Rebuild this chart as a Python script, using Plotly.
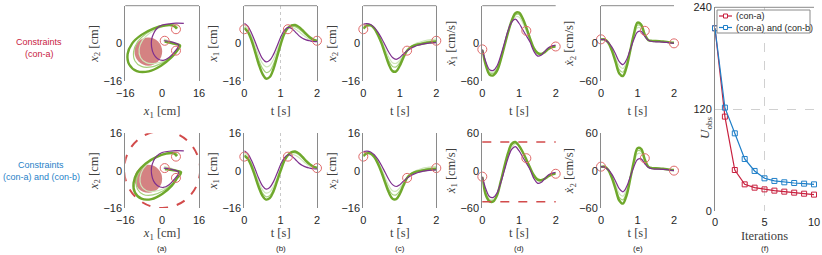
import plotly.graph_objects as go

# ---------------- data ----------------
T = [0.0, 0.1, 0.2, 0.3, 0.4, 0.5, 0.6, 0.7, 0.8, 0.9, 1.0,
     1.1, 1.2, 1.3, 1.4, 1.5, 1.6, 1.7, 1.8, 1.9, 2.0]

# demonstration (purple)
X1_DEMO = [8.5, 7.2, 4.3, 0.6, -3.4, -6.5, -7.9, -7.2, -4.8, -1.2, 2.6,
           5.5, 6.8, 6.3, 4.9, 3.3, 2.2, 1.5, 1.1, 0.8, 0.7]
X2_DEMO = [8.2, 8.4, 8.0, 6.8, 4.8, 2.2, -0.8, -3.8, -6.0, -6.8, -6.0,
           -4.5, -3.2, -2.2, -1.4, -0.8, -0.4, -0.1, 0.1, 0.2, 0.3]
XD1_DEMO = [-9.6, -30, -42, -43, -36, -20, 0, 20, 34, 38.5, 32,
            22, 12, 2, -12, -20, -19, -13, -7, -4, -2.7]
XD2_DEMO = [6.4, 5.5, 1.5, -6, -17, -29, -34, -26, -10, 6, 18,
            19, 11, 5, 3, 2.5, 2.3, 2, 1.5, 0.8, 0]
# demonstration path as drawn in the x1-x2 plane (panel a)
PATH_DEMO_X1 = [9.4, 6.0, 3.0, 0.0, -2.3, -3.7, -4.6, -4.6, -3.7, -2.0, 0.5, 3.0, 5.2, 6.8, 7.2, 6.0, 4.0, 2.0, 0.7]
PATH_DEMO_X2 = [8.5, 8.6, 8.3, 7.8, 6.3, 4.2, 1.5, -1.5, -4.5, -6.5, -7.2, -6.0, -3.8, -1.8, -0.7, 0.0, 0.6, 1.0, 1.1]

# constraint (con-a): iterations light -> final (green)
X1_A = [
    [7.6, 6.2, 3.1, -1.0, -5.3, -8.5, -10.0, -9.4, -6.9, -3.0, 1.4, 5.0, 6.7, 6.8, 6.1, 5.0, 3.8, 2.6, 1.7, 1.1, 0.8],
    [6.8, 5.3, 2.0, -2.5, -7.2, -10.6, -12.4, -11.8, -9.0, -4.6, 0.3, 4.4, 6.6, 7.3, 7.1, 6.2, 4.9, 3.5, 2.3, 1.4, 1.0],
    [6.4, 4.8, 1.2, -3.8, -9.0, -13.0, -15.0, -14.3, -11.0, -5.8, -0.5, 4.0, 6.5, 7.6, 7.8, 7.0, 5.6, 4.0, 2.6, 1.6, 1.1],
]
X2_A = [
    [7.2, 8.1, 7.9, 6.7, 4.4, 1.4, -2.4, -6.0, -8.2, -8.5, -7.2, -5.0, -3.0, -1.4, -0.4, 0.3, 0.8, 1.2, 1.5, 1.7, 1.8],
    [6.6, 7.8, 7.7, 6.5, 4.0, 0.7, -3.6, -7.5, -9.8, -10.0, -8.2, -5.4, -3.0, -1.5, -0.7, -0.2, 0.2, 0.6, 0.9, 1.1, 1.2],
    [6.2, 7.5, 7.6, 6.3, 3.6, 0.0, -4.6, -9.0, -11.8, -11.9, -9.5, -6.0, -3.1, -1.6, -0.9, -0.5, -0.2, 0.1, 0.4, 0.6, 0.7],
]
XD1_A = [
    [-9.8, -32, -45, -46, -39, -23, -2, 18, 33, 42, 42, 33, 19, 4, -10, -17, -18, -13, -8, -5, -4],
    [-10, -34, -47, -48, -41, -25, -4, 17, 34, 45, 46, 37, 23, 7, -8, -16, -17.5, -14, -9, -5.5, -4.5],
    [-10.6, -36, -50, -51, -44, -27, -5, 17, 36, 48, 49, 40, 25, 8, -7, -15, -17, -14, -9, -6, -5],
]
XD2_A = [
    [6.3, 6, 1.3, -8, -22, -36, -40, -30, -10, 10, 25, 24, 12, 5, 3.5, 3.2, 3, 2.5, 1.8, 1.1, 0.6],
    [6.2, 6.2, 1.2, -10, -26, -42, -46, -34, -11, 13, 29, 27, 13, 5, 4, 3.6, 3.3, 2.8, 2.1, 1.3, 0.8],
    [6, 6.5, 1, -12, -30, -48, -52, -38, -12, 15, 33, 30, 14, 5, 4, 3.8, 3.5, 3, 2.3, 1.5, 1],
]

# constraints (con-a) and (con-b)
X1_B = [
    [7.6, 6.3, 3.3, -0.8, -5.0, -8.2, -9.6, -9.1, -6.8, -3.0, 1.3, 5.0, 6.7, 7.0, 6.6, 5.6, 4.3, 3.0, 1.9, 1.2, 0.9],
    [6.8, 5.5, 2.4, -1.8, -6.2, -9.6, -11.2, -10.7, -8.2, -4.0, 0.5, 4.5, 6.7, 7.6, 7.6, 6.8, 5.4, 3.8, 2.5, 1.6, 1.1],
    [6.4, 5.0, 1.8, -2.6, -7.2, -10.8, -12.4, -11.8, -9.0, -4.6, 0.0, 4.2, 6.6, 7.9, 8.2, 7.4, 5.9, 4.2, 2.8, 1.8, 1.2],
]
X2_B = [
    [7.2, 8.0, 7.8, 6.5, 4.1, 0.8, -3.0, -6.5, -8.6, -8.8, -7.4, -5.1, -3.0, -1.3, -0.3, 0.4, 0.9, 1.3, 1.5, 1.7, 1.8],
    [6.6, 7.7, 7.6, 6.2, 3.6, 0.0, -4.2, -8.0, -10.2, -10.4, -8.6, -5.6, -3.0, -1.4, -0.6, -0.1, 0.3, 0.7, 1.0, 1.1, 1.2],
    [6.2, 7.4, 7.3, 5.8, 3.0, -0.8, -5.2, -9.4, -12.0, -12.2, -10.0, -6.4, -3.1, -1.5, -0.7, -0.3, 0.0, 0.3, 0.5, 0.6, 0.7],
]
XD1_B = [
    [-9.8, -35, -46, -46, -38, -20, 2, 22, 37, 43, 40, 30, 17, 4, -9, -16, -17, -13, -8, -5, -4],
    [-10, -38, -48, -48, -39, -18, 5, 26, 41, 45, 40, 30, 18, 5, -7, -14.5, -16, -13, -9, -6, -4.5],
    [-10, -40, -49.5, -49.5, -40, -18, 6, 28, 43, 46, 40, 30, 18, 5, -7, -14, -15.5, -13, -9, -6, -4.5],
]
XD2_B = [
    [6.3, 6, 1.3, -8, -22, -37, -41, -30, -10, 10, 27, 27, 14, 5, 3.5, 3.2, 3, 2.5, 1.8, 1.1, 0.6],
    [6.2, 6.3, 1.2, -10, -27, -43, -47, -35, -12, 13, 32, 31, 16, 6, 4, 3.6, 3.3, 2.8, 2.1, 1.3, 0.8],
    [6, 6.5, 1, -12, -30, -48, -53, -40, -14, 15, 36, 35, 18, 6, 4, 3.8, 3.5, 3, 2.3, 1.5, 1],
]

# via points
VIA_T = [0.0, 1.2, 2.0]
VIA_X1 = [6.0, 6.0, 1.1]
VIA_X2 = [6.0, -3.1, 1.1]
VIA_XD1 = [-9.6, 20.0, -5.0]
VIA_XD2 = [6.4, 20.0, 0.0]

# obstacle (con-a) and workspace bound (con-b)
OBS_CENTER = [-6.0, -3.5]
OBS_RADIUS = 6.0
BOUND_CENTER = [0.0, 0.5]
BOUND_RADIUS = 16.5
VEL_LIMITS = [46.0, -50.0]

# panel (f)
ITERATIONS = [0, 1, 2, 3, 4, 5, 6, 7, 8, 9, 10]
U_OBS_A = [215.3, 111.2, 48.3, 31.4, 27.5, 25.5, 24.0, 22.8, 21.6, 20.4, 19.3]
U_OBS_AB = [215.3, 121.8, 91.5, 61.3, 47.2, 38.5, 35.4, 33.8, 33.0, 32.2, 31.4]

LETTERS = ["(a)", "(b)", "(c)", "(d)", "(e)", "(f)"]

# ---------------- style ----------------
W, H = 822, 255
PURPLE = "#7E2F8E"
GREENS = ["#cfe6bb", "#a5d07c", "#6fa82c"]
GWIDTH = [1.2, 1.2, 2.4]
CIRC = "#E06A6A"
AXC = "#8a8a8a"
RED = "#C8213F"
BLUE = "#1F7FC8"
SANS = "Liberation Sans, Arial, sans-serif"
SERIF = "Liberation Serif, DejaVu Serif, serif"


def sfx(i):
    return "" if i == 1 else str(i)


def px_x(a, b):
    return [a / W, b / W]


def px_y(top, bottom):
    return [1 - bottom / H, 1 - top / H]


XD = [px_x(125.3, 199), px_x(244.3, 317), px_x(363.3, 436.3), px_x(482.3, 555.7), px_x(601, 674)]
YD_TOP = px_y(5.7, 81)
YD_BOT = px_y(133.3, 208)

fig = go.Figure()


def add_line(i, x, y, color, width):
    fig.add_trace(go.Scatter(x=x, y=y, mode="lines",
                             line=dict(color=color, width=width, shape="spline", smoothing=1.0),
                             xaxis="x" + sfx(i), yaxis="y" + sfx(i), hoverinfo="skip"))


def add_via(i, x, y):
    fig.add_trace(go.Scatter(x=x, y=y, mode="markers",
                             marker=dict(symbol="circle-open", size=9, color=CIRC, line=dict(width=1, color=CIRC)),
                             xaxis="x" + sfx(i), yaxis="y" + sfx(i), hoverinfo="skip", cliponaxis=False))


rows = [(X1_A, X2_A, XD1_A, XD2_A, 1), (X1_B, X2_B, XD1_B, XD2_B, 6)]
for X1s, X2s, XD1s, XD2s, base in rows:
    a, b, c, d, e = [base + k for k in range(5)]
    for k in range(3):
        add_line(a, X1s[k], X2s[k], GREENS[k], GWIDTH[k])
    add_line(a, PATH_DEMO_X1, PATH_DEMO_X2, PURPLE, 1.2)
    add_via(a, VIA_X1, VIA_X2)
    for ax, G, DEMO, VIA in [(b, X1s, X1_DEMO, VIA_X1), (c, X2s, X2_DEMO, VIA_X2),
                             (d, XD1s, XD1_DEMO, VIA_XD1), (e, XD2s, XD2_DEMO, VIA_XD2)]:
        for k in range(3):
            add_line(ax, T, G[k], GREENS[k], GWIDTH[k])
        add_line(ax, T, DEMO, PURPLE, 1.2)
        add_via(ax, VIA_T, VIA)

# panel f
fig.add_trace(go.Scatter(x=ITERATIONS, y=U_OBS_A, mode="lines+markers", name="(con-a)",
                         line=dict(color=RED, width=1.2),
                         marker=dict(symbol="square-open", size=5, color=RED, line=dict(width=1, color=RED)),
                         xaxis="x11", yaxis="y11", cliponaxis=False))
fig.add_trace(go.Scatter(x=ITERATIONS, y=U_OBS_AB, mode="lines+markers", name="(con-a) and (con-b)",
                         line=dict(color=BLUE, width=1.2),
                         marker=dict(symbol="square-open", size=5, color=BLUE, line=dict(width=1, color=BLUE)),
                         xaxis="x11", yaxis="y11", cliponaxis=False))

tickfont = dict(family=SANS, size=11, color="#262626")
titlefont = dict(family=SERIF, size=12.5, color="#404040")

layout = dict(width=W, height=H, margin=dict(l=0, r=0, t=0, b=0, autoexpand=False), paper_bgcolor="white",
              plot_bgcolor="white", showlegend=False)

ylabels = ["<i>x</i><sub>2</sub> [cm]", "<i>x</i><sub>1</sub> [cm]", "<i>x</i><sub>2</sub> [cm]",
           "<i>x\u0307</i><sub>1</sub> [cm/s]", "<i>x\u0307</i><sub>2</sub> [cm/s]"]
xlabels = ["<i>x</i><sub>1</sub> [cm]", "t [s]", "t [s]", "t [s]", "t [s]"]

shapes = []
for r, yd in enumerate([YD_TOP, YD_BOT]):
    for k in range(5):
        i = r * 5 + k + 1
        if k == 0:
            xr, xt, yr, yt = [-16, 16], [-16, 0, 16], [-16, 16], [-16, 0, 16]
        elif k in (1, 2):
            xr, xt, yr, yt = [0, 2], [0, 1, 2], [-16, 16], [-16, 0, 16]
        else:
            xr, xt, yr, yt = [0, 2], [0, 1, 2], [-60, 60], [-60, 0, 60]
        layout["xaxis" + sfx(i)] = dict(domain=XD[k], anchor="y" + sfx(i), range=xr, tickvals=xt,
                                        showline=False, ticks="", zeroline=False, automargin=False,
                                        ticklabelstandoff=4,
                                        showgrid=(k == 1), gridcolor="#c8c8c8", griddash="dot", gridwidth=1,
                                        tickfont=tickfont,
                                        title=dict(text=xlabels[k], font=titlefont, standoff=(8 if r == 0 else 2)))
        layout["yaxis" + sfx(i)] = dict(domain=yd, anchor="x" + sfx(i), range=yr, tickvals=yt,
                                        showline=True, linecolor=AXC, linewidth=1, mirror=(k < 3),
                                        ticks="", zeroline=False, showgrid=False, automargin=False,
                                        tickfont=tickfont, title=dict(text=ylabels[k], font=titlefont, standoff=2))
        if r == 0:
            shapes.append(dict(type="line", xref="x%s domain" % sfx(i), yref="y%s domain" % sfx(i),
                               x0=0, x1=1, y0=1, y1=1, line=dict(color=AXC, width=1)))

# panel f axes
layout["xaxis11"] = dict(domain=px_x(715, 814), anchor="y11", range=[0, 10], tickvals=[0, 5, 10],
                         showline=False, ticks="", zeroline=False, showgrid=True, gridcolor="#d0d0d0",
                         griddash="dash", tickfont=tickfont, automargin=False, ticklabelstandoff=3,
                         title=dict(text="Iterations", font=titlefont, standoff=4))
layout["yaxis11"] = dict(domain=px_y(7.3, 211), anchor="x11", range=[0, 240], tickvals=[0, 120, 240],
                         showline=True, linecolor=AXC, linewidth=1, ticks="", zeroline=False,
                         showgrid=True, gridcolor="#d0d0d0", griddash="dash", tickfont=tickfont, automargin=False)
shapes.append(dict(type="line", xref="x11 domain", yref="y11 domain", x0=0, x1=1, y0=1, y1=1,
                   line=dict(color=AXC, width=1)))

# obstacle circles in panel (a)
for i in [1, 6]:
    shapes.append(dict(type="circle", xref="x" + sfx(i), yref="y" + sfx(i), layer="below",
                       x0=OBS_CENTER[0] - OBS_RADIUS, x1=OBS_CENTER[0] + OBS_RADIUS,
                       y0=OBS_CENTER[1] - OBS_RADIUS, y1=OBS_CENTER[1] + OBS_RADIUS,
                       fillcolor="rgba(200,95,95,0.78)", line=dict(width=0)))
shapes.append(dict(type="circle", xref="x6", yref="y6",
                   x0=BOUND_CENTER[0] - BOUND_RADIUS, x1=BOUND_CENTER[0] + BOUND_RADIUS,
                   y0=BOUND_CENTER[1] - BOUND_RADIUS, y1=BOUND_CENTER[1] + BOUND_RADIUS,
                   line=dict(color="#D24B4B", width=2, dash="dash")))
for v in VEL_LIMITS:
    shapes.append(dict(type="line", xref="x9 domain", yref="y9", x0=0, x1=1, y0=v, y1=v,
                       line=dict(color="#D24B4B", width=1.5, dash="dash")))

# manual legend for panel f
lx0, lx1, ly0, ly1 = 717 / W, 810 / W, 1 - 33 / H, 1 - 10 / H
shapes.append(dict(type="rect", xref="paper", yref="paper", x0=lx0, x1=lx1, y0=ly0, y1=ly1,
                   line=dict(color="#8a8a8a", width=1), fillcolor="white"))
annotations = []
for row, (name, col) in enumerate([("(con-a)", RED), ("(con-a) and (con-b)", BLUE)]):
    yy = 1 - (16 + row * 11.5) / H
    shapes.append(dict(type="line", xref="paper", yref="paper", x0=719 / W, x1=732 / W, y0=yy, y1=yy,
                       line=dict(color=col, width=1.2)))
    shapes.append(dict(type="rect", xref="paper", yref="paper", x0=723.5 / W, x1=727.5 / W,
                       y0=yy - 2 / H, y1=yy + 2 / H, line=dict(color=col, width=1), fillcolor="white"))
    annotations.append(dict(text=name, xref="paper", yref="paper", x=733.5 / W, y=yy, xanchor="left",
                            yanchor="middle", showarrow=False, font=dict(family=SANS, size=9, color="#262626")))

# y title of panel f (placed just below the 120 tick label like the original)
annotations.append(dict(text="<i>U</i><sub>obs</sub>", x=705 / W, y=1 - 128 / H, textangle=-90,
                        font=dict(family=SERIF, size=13, color="#404040")))

# row labels
annotations += [
    dict(text="Constraints", x=39 / W, y=1 - 42 / H, font=dict(family=SANS, size=9, color=RED)),
    dict(text="(con-a)", x=39 / W, y=1 - 54 / H, font=dict(family=SANS, size=9, color=RED)),
    dict(text="Constraints", x=41 / W, y=1 - 165 / H, font=dict(family=SANS, size=9, color=BLUE)),
    dict(text="(con-a) and (con-b)", x=41 / W, y=1 - 177 / H, font=dict(family=SANS, size=9, color=BLUE)),
]
for k, name in enumerate(LETTERS):
    xc = [162, 281, 400, 519, 638, 765][k]
    annotations.append(dict(text=name, x=xc / W, y=1 - 248 / H, font=dict(family=SANS, size=8, color="#262626")))
for an in annotations:
    an.setdefault("xref", "paper")
    an.setdefault("yref", "paper")
    an.setdefault("showarrow", False)
    an.setdefault("xanchor", "center")
    an.setdefault("yanchor", "middle")

layout["shapes"] = shapes
layout["annotations"] = annotations
fig.update_layout(**layout)
fig.write_html("out.html", config={"displayModeBar": False},
               post_script="document.body.style.margin='0';document.body.style.padding='0';"
                           "document.body.style.overflow='hidden';")
